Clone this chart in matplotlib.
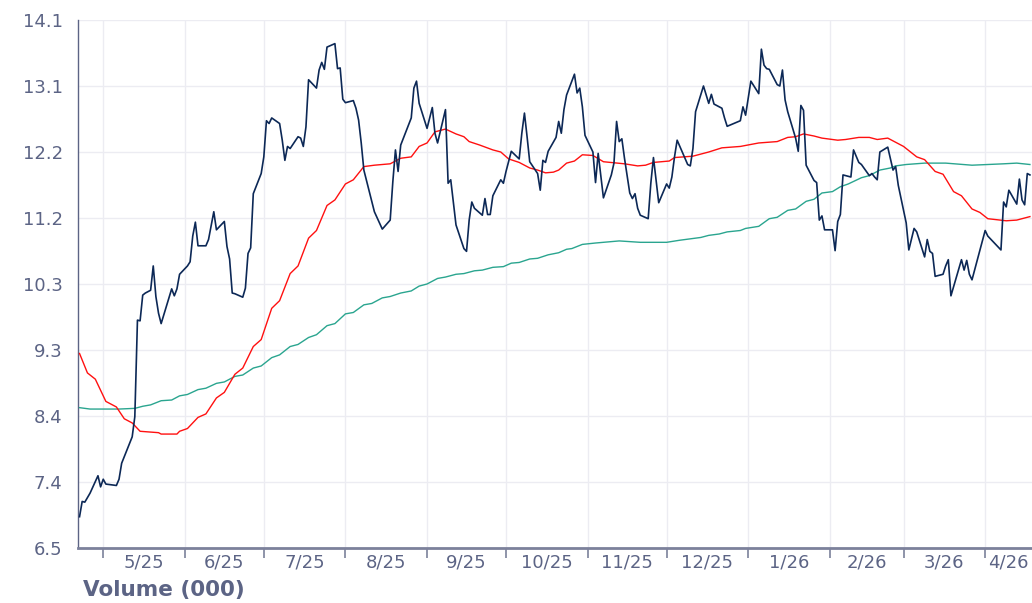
import matplotlib
matplotlib.use("Agg")
import matplotlib.pyplot as plt
import matplotlib.dates as mdates
from matplotlib.ticker import FixedLocator, NullFormatter
import numpy as np
import pandas as pd

# daily close
price_dates = [
    "2025-04-22", "2025-04-23", "2025-04-24", "2025-04-26", "2025-04-29", "2025-04-30",
    "2025-05-01", "2025-05-02", "2025-05-06", "2025-05-07", "2025-05-08", "2025-05-12",
    "2025-05-13", "2025-05-14", "2025-05-15", "2025-05-16", "2025-05-17", "2025-05-19",
    "2025-05-20", "2025-05-21", "2025-05-22", "2025-05-23", "2025-05-27", "2025-05-28",
    "2025-05-29", "2025-05-30", "2025-06-02", "2025-06-03", "2025-06-04", "2025-06-05",
    "2025-06-06", "2025-06-09", "2025-06-10", "2025-06-12", "2025-06-13", "2025-06-16",
    "2025-06-17", "2025-06-18", "2025-06-19", "2025-06-20", "2025-06-23", "2025-06-24",
    "2025-06-25", "2025-06-26", "2025-06-27", "2025-06-30", "2025-07-01", "2025-07-02",
    "2025-07-03", "2025-07-04", "2025-07-07", "2025-07-08", "2025-07-09", "2025-07-10",
    "2025-07-11", "2025-07-14", "2025-07-15", "2025-07-16", "2025-07-17", "2025-07-18",
    "2025-07-21", "2025-07-22", "2025-07-23", "2025-07-24", "2025-07-25", "2025-07-28",
    "2025-07-29", "2025-07-30", "2025-07-31", "2025-08-01", "2025-08-04", "2025-08-05",
    "2025-08-06", "2025-08-07", "2025-08-08", "2025-08-12", "2025-08-15", "2025-08-18",
    "2025-08-19", "2025-08-20", "2025-08-21", "2025-08-22", "2025-08-26", "2025-08-27",
    "2025-08-28", "2025-08-29", "2025-09-01", "2025-09-03", "2025-09-04", "2025-09-05",
    "2025-09-08", "2025-09-09", "2025-09-10", "2025-09-12", "2025-09-15", "2025-09-16",
    "2025-09-17", "2025-09-18", "2025-09-19", "2025-09-22", "2025-09-23", "2025-09-24",
    "2025-09-25", "2025-09-26", "2025-09-29", "2025-09-30", "2025-10-01", "2025-10-03",
    "2025-10-06", "2025-10-07", "2025-10-08", "2025-10-09", "2025-10-10", "2025-10-13",
    "2025-10-14", "2025-10-15", "2025-10-16", "2025-10-17", "2025-10-20", "2025-10-21",
    "2025-10-22", "2025-10-23", "2025-10-24", "2025-10-27", "2025-10-28", "2025-10-29",
    "2025-10-30", "2025-10-31", "2025-11-03", "2025-11-04", "2025-11-05", "2025-11-07",
    "2025-11-10", "2025-11-11", "2025-11-12", "2025-11-13", "2025-11-14", "2025-11-15",
    "2025-11-17", "2025-11-18", "2025-11-19", "2025-11-20", "2025-11-21", "2025-11-24",
    "2025-11-25", "2025-11-26", "2025-11-28", "2025-12-01", "2025-12-02", "2025-12-03",
    "2025-12-04", "2025-12-05", "2025-12-09", "2025-12-10", "2025-12-11", "2025-12-12",
    "2025-12-15", "2025-12-17", "2025-12-18", "2025-12-19", "2025-12-22", "2025-12-23",
    "2025-12-24", "2025-12-29", "2025-12-30", "2025-12-31", "2026-01-02", "2026-01-05",
    "2026-01-06", "2026-01-07", "2026-01-08", "2026-01-09", "2026-01-12", "2026-01-13",
    "2026-01-14", "2026-01-15", "2026-01-16", "2026-01-19", "2026-01-20", "2026-01-21",
    "2026-01-22", "2026-01-23", "2026-01-26", "2026-01-27", "2026-01-28", "2026-01-29",
    "2026-01-30", "2026-02-02", "2026-02-03", "2026-02-04", "2026-02-05", "2026-02-06",
    "2026-02-09", "2026-02-10", "2026-02-11", "2026-02-12", "2026-02-13", "2026-02-16",
    "2026-02-17", "2026-02-18", "2026-02-19", "2026-02-20", "2026-02-23", "2026-02-25",
    "2026-02-26", "2026-02-27", "2026-03-02", "2026-03-03", "2026-03-05", "2026-03-06",
    "2026-03-09", "2026-03-10", "2026-03-11", "2026-03-12", "2026-03-13", "2026-03-16",
    "2026-03-17", "2026-03-18", "2026-03-19", "2026-03-23", "2026-03-24", "2026-03-25",
    "2026-03-26", "2026-03-27", "2026-04-01", "2026-04-02", "2026-04-07", "2026-04-08",
    "2026-04-09", "2026-04-10", "2026-04-13", "2026-04-14", "2026-04-15", "2026-04-16",
    "2026-04-17", "2026-04-18",
]
price_vals = [
    6.95, 7.17, 7.16, 7.29, 7.54, 7.38,
    7.49, 7.42, 7.40, 7.49, 7.72, 8.10,
    8.39, 9.78, 9.77, 10.14, 10.17, 10.21,
    10.56, 10.12, 9.88, 9.73, 10.23, 10.13,
    10.23, 10.44, 10.56, 10.62, 10.99, 11.19,
    10.85, 10.85, 10.94, 11.34, 11.08, 11.20,
    10.84, 10.66, 10.17, 10.16, 10.11, 10.24,
    10.74, 10.82, 11.60, 11.89, 12.13, 12.65,
    12.61, 12.69, 12.61, 12.37, 12.08, 12.28,
    12.25, 12.42, 12.40, 12.28, 12.56, 13.24,
    13.12, 13.38, 13.49, 13.39, 13.71, 13.76,
    13.40, 13.41, 12.96, 12.91, 12.94, 12.83,
    12.66, 12.33, 11.94, 11.34, 11.09, 11.22,
    11.77, 12.23, 11.92, 12.30, 12.69, 13.12,
    13.22, 12.90, 12.54, 12.84, 12.47, 12.33,
    12.81, 11.75, 11.80, 11.15, 10.81, 10.77,
    11.22, 11.48, 11.39, 11.29, 11.53, 11.30,
    11.30, 11.57, 11.80, 11.75, 11.92, 12.21,
    12.10, 12.47, 12.76, 12.42, 12.06, 11.89,
    11.65, 12.08, 12.05, 12.21, 12.41, 12.64,
    12.47, 12.81, 13.02, 13.32, 13.05, 13.12,
    12.85, 12.44, 12.20, 11.76, 12.18, 11.54,
    11.87, 12.04, 12.64, 12.35, 12.39, 12.11,
    11.61, 11.53, 11.60, 11.39, 11.29, 11.24,
    11.75, 12.12, 11.47, 11.74, 11.68, 11.84,
    12.13, 12.37, 12.02, 12.00, 12.25, 12.78,
    13.15, 12.90, 13.03, 12.89, 12.83, 12.69,
    12.57, 12.65, 12.85, 12.73, 13.22, 13.04,
    13.68, 13.45, 13.40, 13.39, 13.17, 13.15,
    13.38, 12.95, 12.78, 12.40, 12.21, 12.87,
    12.80, 12.01, 11.79, 11.76, 11.22, 11.28,
    11.08, 11.08, 10.78, 11.20, 11.30, 11.87,
    11.84, 12.23, 12.14, 12.05, 12.02, 11.86,
    11.89, 11.84, 11.80, 12.20, 12.27, 11.94,
    11.99, 11.72, 11.18, 10.79, 11.10, 11.05,
    10.69, 10.94, 10.77, 10.74, 10.41, 10.44,
    10.56, 10.65, 10.13, 10.65, 10.50, 10.64,
    10.44, 10.36, 11.07, 10.99, 10.79, 11.48,
    11.41, 11.65, 11.45, 11.81, 11.51, 11.44,
    11.89, 11.87,
]

# short moving average (red)
ma_short_dates = [
    "2025-04-22", "2025-04-25", "2025-04-28", "2025-05-02", "2025-05-06", "2025-05-09",
    "2025-05-12", "2025-05-15", "2025-05-22", "2025-05-23", "2025-05-29", "2025-05-30",
    "2025-06-02", "2025-06-06", "2025-06-09", "2025-06-13", "2025-06-16", "2025-06-20",
    "2025-06-23", "2025-06-27", "2025-06-30", "2025-07-04", "2025-07-07", "2025-07-11",
    "2025-07-14", "2025-07-18", "2025-07-21", "2025-07-25", "2025-07-28", "2025-08-01",
    "2025-08-04", "2025-08-08", "2025-08-12", "2025-08-18", "2025-08-22", "2025-08-26",
    "2025-08-29", "2025-09-01", "2025-09-04", "2025-09-08", "2025-09-12", "2025-09-15",
    "2025-09-17", "2025-09-21", "2025-09-26", "2025-09-29", "2025-10-02", "2025-10-06",
    "2025-10-10", "2025-10-13", "2025-10-16", "2025-10-19", "2025-10-21", "2025-10-24",
    "2025-10-27", "2025-10-30", "2025-11-03", "2025-11-07", "2025-11-15", "2025-11-20",
    "2025-11-23", "2025-11-26", "2025-12-02", "2025-12-04", "2025-12-11", "2025-12-17",
    "2025-12-22", "2025-12-29", "2026-01-05", "2026-01-12", "2026-01-16", "2026-01-19",
    "2026-01-22", "2026-01-26", "2026-01-29", "2026-02-04", "2026-02-07", "2026-02-12",
    "2026-02-16", "2026-02-19", "2026-02-23", "2026-02-27", "2026-03-01", "2026-03-06",
    "2026-03-09", "2026-03-13", "2026-03-16", "2026-03-20", "2026-03-23", "2026-03-27",
    "2026-03-30", "2026-04-02", "2026-04-09", "2026-04-13", "2026-04-18",
]
ma_short_vals = [
    9.30, 9.02, 8.93, 8.61, 8.53, 8.36,
    8.30, 8.18, 8.16, 8.14, 8.14, 8.18,
    8.22, 8.38, 8.43, 8.66, 8.74, 9.00,
    9.09, 9.40, 9.50, 9.95, 10.06, 10.45,
    10.56, 10.96, 11.07, 11.43, 11.51, 11.74,
    11.80, 11.99, 12.01, 12.03, 12.11, 12.13,
    12.28, 12.33, 12.49, 12.53, 12.46, 12.42,
    12.35, 12.30, 12.23, 12.20, 12.10, 12.05,
    11.97, 11.94, 11.90, 11.91, 11.94, 12.04,
    12.07, 12.16, 12.15, 12.06, 12.03, 12.00,
    12.01, 12.05, 12.07, 12.12, 12.14, 12.20,
    12.26, 12.28, 12.33, 12.35, 12.41, 12.42,
    12.46, 12.43, 12.40, 12.37, 12.38, 12.41,
    12.41, 12.38, 12.40, 12.32, 12.28, 12.13,
    12.09, 11.92, 11.88, 11.63, 11.57, 11.38,
    11.33, 11.24, 11.21, 11.22, 11.27,
]

# long moving average (teal)
ma_long_dates = [
    "2025-04-22", "2025-04-26", "2025-05-07", "2025-05-13", "2025-05-16", "2025-05-19",
    "2025-05-23", "2025-05-27", "2025-05-30", "2025-06-02", "2025-06-06", "2025-06-09",
    "2025-06-13", "2025-06-16", "2025-06-20", "2025-06-23", "2025-06-27", "2025-06-30",
    "2025-07-04", "2025-07-07", "2025-07-11", "2025-07-14", "2025-07-18", "2025-07-21",
    "2025-07-25", "2025-07-28", "2025-08-01", "2025-08-04", "2025-08-08", "2025-08-11",
    "2025-08-15", "2025-08-18", "2025-08-22", "2025-08-26", "2025-08-29", "2025-09-01",
    "2025-09-05", "2025-09-08", "2025-09-12", "2025-09-15", "2025-09-19", "2025-09-22",
    "2025-09-26", "2025-09-30", "2025-10-03", "2025-10-06", "2025-10-10", "2025-10-13",
    "2025-10-17", "2025-10-21", "2025-10-24", "2025-10-26", "2025-10-30", "2025-11-04",
    "2025-11-13", "2025-11-21", "2025-12-01", "2025-12-06", "2025-12-14", "2025-12-17",
    "2025-12-21", "2025-12-24", "2025-12-29", "2025-12-31", "2026-01-05", "2026-01-09",
    "2026-01-12", "2026-01-16", "2026-01-19", "2026-01-23", "2026-01-26", "2026-01-29",
    "2026-02-02", "2026-02-05", "2026-02-08", "2026-02-13", "2026-02-16", "2026-02-20",
    "2026-02-24", "2026-02-26", "2026-03-02", "2026-03-09", "2026-03-17", "2026-03-27",
    "2026-04-08", "2026-04-13", "2026-04-18",
]
ma_long_vals = [
    8.52, 8.50, 8.50, 8.51, 8.54, 8.56,
    8.62, 8.63, 8.69, 8.71, 8.78, 8.80,
    8.87, 8.89, 8.97, 8.99, 9.09, 9.12,
    9.24, 9.28, 9.40, 9.43, 9.53, 9.57,
    9.70, 9.73, 9.87, 9.89, 10.00, 10.02,
    10.10, 10.12, 10.17, 10.20, 10.27, 10.30,
    10.38, 10.40, 10.44, 10.45, 10.49, 10.50,
    10.54, 10.55, 10.60, 10.61, 10.66, 10.67,
    10.72, 10.75, 10.80, 10.81, 10.87, 10.89,
    10.92, 10.90, 10.90, 10.93, 10.97, 11.00,
    11.02, 11.05, 11.07, 11.10, 11.13, 11.24,
    11.26, 11.36, 11.38, 11.49, 11.52, 11.61,
    11.63, 11.70, 11.74, 11.83, 11.86, 11.94,
    11.97, 12.00, 12.02, 12.04, 12.04, 12.01,
    12.03, 12.04, 12.02,
]

y_ticks = np.linspace(6.5, 14.1, 9)
y_labels = ["6.5", "7.4", "8.4", "9.3", "10.3", "11.2", "12.2", "13.1", "14.1"]

NAVY = "#0c2856"
RED = "#ff1010"
TEAL = "#2aa58f"
TXT = "#5c6485"
GRID = "#ececf2"

fig = plt.figure(figsize=(10.32, 6.03), dpi=100)
ax = fig.add_axes([78 / 1032, 55 / 603, 954 / 1032, 528 / 603])

ax.plot(pd.to_datetime(ma_long_dates), ma_long_vals, color=TEAL, lw=1.0, zorder=3)
ax.plot(pd.to_datetime(ma_short_dates), ma_short_vals, color=RED, lw=1.0, zorder=3)
ax.plot(pd.to_datetime(price_dates), price_vals, color=NAVY, lw=1.2, zorder=4)

x0 = pd.Timestamp("2025-04-21 10:00")
x1 = pd.Timestamp("2026-04-18 19:00")
ax.set_xlim(x0, x1)
ax.set_ylim(6.5, 14.1)
ax.set_yticks(y_ticks)
ax.set_yticklabels(y_labels)

# month boundaries as major ticks, labels centred in the visible part of each month
starts = pd.date_range("2025-05-01", "2026-04-01", freq="MS")
mids, labels = [], []
for s in starts:
    e = s + pd.offsets.MonthBegin(1)
    a, b = max(s, x0), min(e, x1)
    mids.append(mdates.date2num(a + (b - a) / 2))
    labels.append(f"{s.month}/{s.strftime('%y')}")
ax.xaxis.set_major_locator(FixedLocator(mdates.date2num(starts)))
ax.xaxis.set_major_formatter(NullFormatter())
ax.xaxis.set_minor_locator(FixedLocator(mids))
ax.set_xticklabels(labels, minor=True)

ax.tick_params(axis="x", which="major", length=7, width=1.2, color="#7c819b")
ax.tick_params(axis="x", which="minor", length=0, pad=4, labelsize=13, labelcolor=TXT)
ax.tick_params(axis="y", length=0, pad=11, labelsize=13, labelcolor=TXT)

ax.grid(True, which="major", color=GRID, lw=1.0, zorder=0)
ax.set_axisbelow(True)
for side in ("top", "right"):
    ax.spines[side].set_visible(False)
ax.spines["left"].set_color(TXT)
ax.spines["left"].set_linewidth(1.0)
ax.spines["bottom"].set_color("#7c819b")
ax.spines["bottom"].set_linewidth(2.0)

fig.text(83 / 1032, 7 / 603, "Volume (000)", fontsize=15.5, fontweight="bold",
         color=TXT, ha="left", va="baseline")

fig.savefig("out.png", dpi=100)
